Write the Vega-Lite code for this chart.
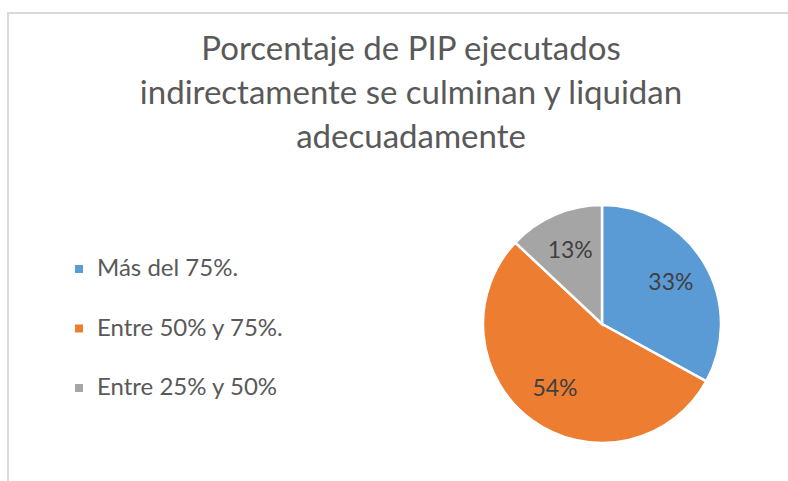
{
  "$schema": "https://vega.github.io/schema/vega-lite/v6.json",
  "autosize": "none",
  "width": 1188,
  "height": 622,
  "padding": {"left": 8, "top": 13, "right": 0, "bottom": 0},
  "background": "white",
  "view": {"stroke": "#d9d9d9", "strokeWidth": 2, "fill": "white"},
  "config": {
    "font": "Lato"
  },
  "title": {
    "text": ["Porcentaje de PIP ejecutados", "indirectamente se culminan y liquidan", "adecuadamente"],
    "anchor": "middle",
    "frame": "group",
    "orient": "top",
    "offset": 0,
    "dx": -191,
    "dy": 142,
    "baseline": "top",
    "fontSize": 33,
    "fontWeight": "normal",
    "color": "#595959",
    "lineHeight": 44
  },
  "data": {
    "values": [
      {"categoria": "Más del 75%.", "porcentaje": 0.33, "orden": 1},
      {"categoria": "Entre 50% y 75%.", "porcentaje": 0.54, "orden": 2},
      {"categoria": "Entre 25% y 50%", "porcentaje": 0.13, "orden": 3}
    ]
  },
  "encoding": {
    "theta": {"field": "porcentaje", "type": "quantitative", "stack": true},
    "order": {"field": "orden", "type": "quantitative"},
    "color": {
      "field": "categoria",
      "type": "nominal",
      "sort": ["Más del 75%.", "Entre 50% y 75%.", "Entre 25% y 50%"],
      "scale": {
        "domain": ["Más del 75%.", "Entre 50% y 75%.", "Entre 25% y 50%"],
        "range": ["#5b9bd5", "#ed7d31", "#a5a5a5"]
      },
      "legend": {
        "orient": "none",
        "legendX": 59,
        "legendY": 244,
        "title": null,
        "padding": 0,
        "symbolType": "square",
        "symbolSize": 64,
        "symbolStrokeWidth": 0,
        "labelFontSize": 24,
        "labelLimit": 500,
        "labelColor": "#595959",
        "labelOffset": 6,
        "rowPadding": 35.5
      }
    }
  },
  "layer": [
    {"mark": {"type": "arc", "outerRadius": 119, "stroke": "white", "strokeWidth": 2.5}},
    {
      "mark": {"type": "text", "radius": 80, "fontSize": 23, "color": "#404040"},
      "encoding": {
        "text": {"field": "porcentaje", "type": "quantitative", "format": ".0%"},
        "color": {"value": "#404040"}
      }
    }
  ]
}
